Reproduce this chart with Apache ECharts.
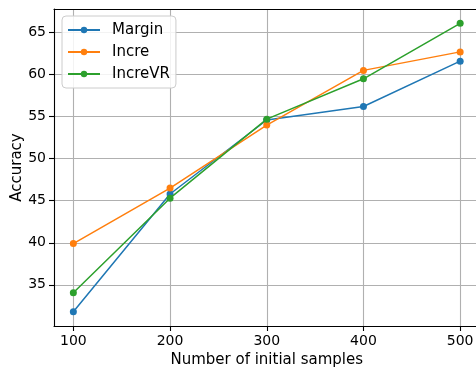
<!DOCTYPE html>
<html>
<head>
<meta charset="utf-8">
<script src="https://cdn.jsdelivr.net/npm/echarts@6/dist/echarts.min.js"></script>
<style>html,body{margin:0;padding:0;background:#fff}#c{width:476px;height:370px}</style>
</head>
<body>
<div id="c"></div>
<script>
const xValues = [100, 200, 300, 400, 500];
const seriesNames = ['Margin', 'Incre', 'IncreVR'];
const margin = [31.8, 45.8, 54.6, 56.2, 61.6];
const incre = [39.9, 46.5, 54.0, 60.5, 62.7];
const increVR = [34.05, 45.3, 54.7, 59.5, 66.1];
const xTicks = [100, 200, 300, 400, 500];
const yTicks = [35, 40, 45, 50, 55, 60, 65];
const colors = ['#1f77b4', '#ff7f0e', '#2ca02c'];

const font = 'DejaVu Sans';
const allData = [margin, incre, increVR];
const chart = echarts.init(document.getElementById('c'));
chart.setOption({
  animation: false,
  textStyle: { fontFamily: font },
  grid: { left: 54, top: 9, right: -3.5, bottom: 44, containLabel: false, outerBoundsMode: 'none' },
  legend: {
    orient: 'vertical', left: 62, top: 16,
    data: seriesNames,
    itemWidth: 32, itemHeight: 8, itemGap: 0,
    padding: [3, 6, 3, 5],
    borderColor: '#cccccc', borderWidth: 1, borderRadius: 4,
    backgroundColor: 'rgba(255,255,255,0.85)',
    textStyle: { fontFamily: font, fontSize: 15, color: '#000', lineHeight: 22, padding: [0, 0, 0, 7] }
  },
  xAxis: [{
    type: 'value', min: 80, max: 520,
    name: 'Number of initial samples', nameLocation: 'middle', nameGap: 24,
    nameTextStyle: { fontFamily: font, fontSize: 15, color: '#000' },
    axisLine: { show: true, lineStyle: { color: '#000', width: 1.1 } },
    axisTick: { show: true, length: 5, lineStyle: { color: '#000', width: 1.1 }, customValues: xTicks },
    axisLabel: { fontFamily: font, fontSize: 14, color: '#000', margin: 8, customValues: xTicks },
    splitLine: { show: true, lineStyle: { color: '#b0b0b0', width: 1.1 } }
  }, {
    type: 'value', min: 80, max: 520, position: 'top',
    axisLine: { show: true, onZero: false, lineStyle: { color: '#000', width: 1.1 } },
    axisTick: { show: false }, axisLabel: { show: false }, splitLine: { show: false }
  }],
  yAxis: {
    type: 'value', min: 30.1, max: 67.8,
    name: 'Accuracy', nameLocation: 'middle', nameGap: 29, nameMoveOverlap: false,
    nameTextStyle: { fontFamily: font, fontSize: 15, color: '#000' },
    axisLine: { show: true, lineStyle: { color: '#000', width: 1.1 } },
    axisTick: { show: true, length: 5, lineStyle: { color: '#000', width: 1.1 }, customValues: yTicks },
    axisLabel: { fontFamily: font, fontSize: 14, color: '#000', margin: 8, customValues: yTicks },
    splitLine: { show: true, lineStyle: { color: '#b0b0b0', width: 1.1 } }
  },
  series: seriesNames.map((n, i) => ({
    name: n, type: 'line', xAxisIndex: 0,
    data: xValues.map((x, j) => [x, allData[i][j]]),
    symbol: 'circle', symbolSize: 7,
    itemStyle: { color: colors[i] },
    lineStyle: { color: colors[i], width: 1.5 },
    z: 3 + i
  }))
});
</script>
</body>
</html>
